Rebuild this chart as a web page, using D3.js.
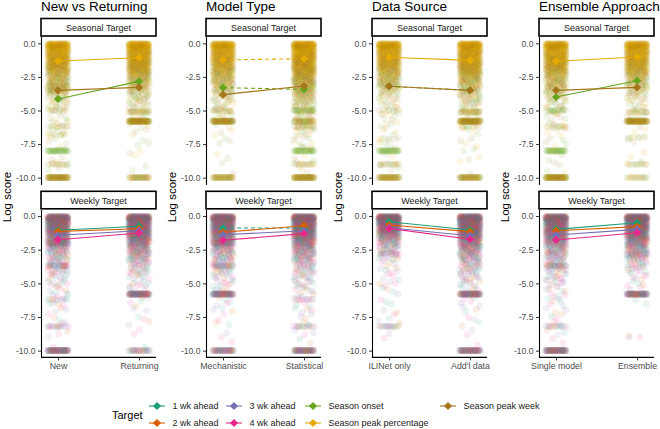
<!DOCTYPE html>
<html>
<head>
<meta charset="utf-8">
<script src="https://cdn.jsdelivr.net/npm/d3@7"></script>
<style>
  html, body { margin: 0; padding: 0; background: #fff; }
  svg { display: block; font-family: "Liberation Sans", Arial, sans-serif; }
</style>
</head>
<body>
<svg id="chart" width="660" height="429"></svg>
<script>
// ---------------- DATA ----------------
const columnTitles = ["New vs Returning", "Model Type", "Data Source", "Ensemble Approach"];
const categories = [["New", "Returning"], ["Mechanistic", "Statistical"], ["ILINet only", "Add'l data"], ["Single model", "Ensemble"]];
const facetLabels = ["Seasonal Target", "Weekly Target"];
const targetNames = ["1 wk ahead", "2 wk ahead", "3 wk ahead", "4 wk ahead", "Season onset", "Season peak percentage", "Season peak week"];
const targetColors = ["#1B9E77", "#D95F02", "#7570B3", "#E7298A", "#66A61E", "#E6AB02", "#A6761D"];
const yTicks = [0, -2.5, -5, -7.5, -10];

// mean log scores [category1, category2] per column
const mean1wk = [[-1.06, -0.76], [-0.89, -0.89], [-0.42, -1.04], [-0.99, -0.50]];
const mean2wk = [[-1.14, -0.94], [-1.21, -0.72], [-0.67, -1.16], [-1.09, -0.79]];
const mean3wk = [[-1.43, -1.09], [-1.39, -1.09], [-0.87, -1.46], [-1.41, -0.99]];
const mean4wk = [[-1.76, -1.26], [-1.80, -1.31], [-0.92, -1.73], [-1.78, -1.24]];
const meanOnset = [[-4.14, -2.83], [-3.30, -3.43], [-3.20, -3.50], [-4.00, -2.78]];
const meanPeakPct = [[-1.32, -1.07], [-1.24, -1.14], [-1.04, -1.27], [-1.34, -1.02]];
const meanPeakWeek = [[-3.50, -3.28], [-3.82, -3.18], [-3.20, -3.50], [-3.50, -3.28]];
// non-significant differences (dashed)
const dashed1wk = [false, true, false, false];
const dashed2wk = [false, false, false, false];
const dashed3wk = [false, false, false, false];
const dashed4wk = [false, false, false, false];
const dashedOnset = [false, true, true, false];
const dashedPeakPct = [false, true, false, false];
const dashedPeakWeek = [false, false, false, false];

// distribution of individual scores: counts per score level
const scoreLevels = [0, -0.5, -1, -1.5, -2, -2.5, -3, -3.5, -4, -4.5, -5, -5.5, -6, -6.5, -7, -7.5, -8, -8.5, -9, -9.5, -10];
const peakPctShare = [0.85, 0.8, 0.72, 0.62, 0.52, 0.42, 0.34, 0.3, 0.3, 0.3, 0.3, 0.3, 0.3, 0.3, 0.3, 0.3, 0.3, 0.3, 0.3, 0.3, 0.3];
const weeklyShare = [0.25, 0.2, 0.3, 0.25]; // 1..4 wk ahead share of weekly scores

const seasNew       = [100, 95, 90, 80, 62, 42, 36, 28, 15, 10, 7, 5, 4, 4, 3, 3, 2, 2, 2, 2, 0];
const seasReturning = [105, 100, 95, 85, 72, 46, 36, 26, 18, 12, 9, 5, 3, 3, 2, 2, 2, 1, 1, 1, 0];
const seasMech      = [90, 88, 80, 68, 56, 42, 35, 25, 15, 10, 8, 5, 3, 2, 2, 2, 1, 1, 1, 1, 0];
const seasStat      = [115, 112, 105, 95, 82, 62, 50, 40, 30, 20, 15, 12, 10, 8, 6, 5, 4, 3, 3, 2, 0];
const seasILI       = [100, 95, 85, 72, 56, 40, 35, 20, 12, 8, 6, 5, 4, 3, 3, 3, 2, 2, 2, 1, 0];
const seasAddl      = [105, 100, 95, 85, 72, 48, 38, 28, 20, 14, 10, 6, 4, 3, 3, 2, 2, 2, 1, 1, 0];
const seasSingle    = [100, 95, 90, 80, 62, 42, 35, 28, 16, 10, 8, 6, 4, 4, 3, 3, 2, 2, 2, 2, 0];
const seasEns       = [95, 90, 85, 72, 60, 40, 30, 20, 12, 8, 6, 4, 2, 2, 2, 1, 1, 1, 1, 0, 0];

const wkNew       = [125, 115, 100, 72, 50, 30, 22, 18, 14, 10, 8, 6, 5, 4, 3, 3, 3, 2, 2, 1, 0];
const wkReturning = [135, 125, 115, 92, 62, 40, 30, 20, 14, 10, 8, 5, 3, 3, 2, 2, 2, 1, 1, 1, 0];
const wkMech      = [125, 115, 100, 72, 50, 32, 24, 18, 14, 10, 8, 6, 4, 3, 3, 2, 2, 1, 1, 1, 0];
const wkStat      = [135, 125, 110, 88, 62, 40, 30, 22, 16, 12, 9, 7, 5, 4, 4, 3, 3, 2, 2, 1, 0];
const wkILI       = [135, 125, 95, 52, 30, 18, 10, 6, 5, 4, 4, 3, 2, 2, 2, 2, 2, 1, 1, 0, 0];
const wkAddl      = [135, 125, 115, 92, 62, 40, 30, 22, 16, 12, 9, 6, 4, 3, 3, 2, 2, 1, 1, 1, 0];
const wkSingle    = [125, 115, 100, 72, 50, 32, 24, 18, 14, 10, 8, 6, 5, 4, 3, 3, 3, 2, 2, 1, 0];
const wkEns       = [135, 125, 110, 82, 55, 35, 25, 15, 10, 6, 4, 2, 1, 1, 0, 0, 0, 0, 1, 0, 0];

// repeated exact scores (horizontal bands): [score, count, target index or -1 for mixed]
const bandsSeasNew       = [[-3.2, 10, -1], [-3.5, 10, -1], [-5, 8, -1], [-6.2, 10, -1], [-6.8, 6, -1], [-8, 30, 4], [-9, 12, -1], [-10, 65, -1]];
const bandsSeasReturning = [[-5.1, 20, -1], [-5.8, 80, -1], [-10, 35, -1]];
const bandsSeasMech      = [[-5, 12, -1], [-5.8, 70, -1], [-10, 42, -1]];
const bandsSeasStat      = [[-5, 22, 4], [-5.8, 30, -1], [-6.2, 12, -1], [-8, 30, 4], [-9, 14, -1], [-10, 65, -1]];
const bandsSeasILI       = [[-5, 6, -1], [-7.1, 5, -1], [-8, 30, 4], [-9, 14, -1], [-10, 50, -1]];
const bandsSeasAddl      = [[-5.1, 22, -1], [-5.8, 75, -1], [-6.2, 8, -1], [-10, 50, -1]];
const bandsSeasSingle    = [[-5, 14, 4], [-6.2, 10, -1], [-8, 30, 4], [-10, 70, -1]];
const bandsSeasEns       = [[-5.1, 14, -1], [-5.8, 75, -1], [-7, 6, -1], [-9, 12, -1], [-10, 16, -1]];

const bandsWkNew       = [[-2, 20, -1], [-3.7, 15, -1], [-6.2, 8, -1], [-8.2, 12, -1], [-10, 70, -1]];
const bandsWkReturning = [[-5.8, 70, -1], [-10, 25, -1]];
const bandsWkMech      = [[-2, 20, -1], [-3.7, 15, -1], [-5.8, 60, -1], [-10, 45, -1]];
const bandsWkStat      = [[-6.2, 8, -1], [-8.2, 12, -1], [-10, 55, -1]];
const bandsWkILI       = [[-2.8, 10, -1], [-8.2, 14, -1]];
const bandsWkAddl      = [[-5.8, 65, -1], [-10, 60, -1]];
const bandsWkSingle    = [[-3.7, 15, -1], [-8.2, 12, -1], [-10, 70, -1]];
const bandsWkEns       = [[-2.8, 10, -1], [-5.8, 65, -1], [-9, 2, -1]];

// ---------------- ASSEMBLY ----------------
const seasCounts = [[seasNew, seasReturning], [seasMech, seasStat], [seasILI, seasAddl], [seasSingle, seasEns]];
const wkCounts = [[wkNew, wkReturning], [wkMech, wkStat], [wkILI, wkAddl], [wkSingle, wkEns]];
const seasBands = [[bandsSeasNew, bandsSeasReturning], [bandsSeasMech, bandsSeasStat], [bandsSeasILI, bandsSeasAddl], [bandsSeasSingle, bandsSeasEns]];
const wkBands = [[bandsWkNew, bandsWkReturning], [bandsWkMech, bandsWkStat], [bandsWkILI, bandsWkAddl], [bandsWkSingle, bandsWkEns]];
const meansByTarget = [mean1wk, mean2wk, mean3wk, mean4wk, meanOnset, meanPeakPct, meanPeakWeek];
const dashedByTarget = [dashed1wk, dashed2wk, dashed3wk, dashed4wk, dashedOnset, dashedPeakPct, dashedPeakWeek];
const facetTargets = [[4, 5, 6], [0, 1, 2, 3]];
const weeklyCum = d3.cumsum(weeklyShare);
const weeklyPick = h => Math.min(3, weeklyCum.findIndex(v => h < v) === -1 ? 3 : weeklyCum.findIndex(v => h < v));

// ---------------- LAYOUT ----------------
const svg = d3.select("#chart");
const panelLeft = [41, 206, 372, 539];
const panelWidth = 115;
const facetY = [
  { stripTop: 18.5, top: 36.6, bottom: 184.4 },
  { stripTop: 191.3, top: 209.3, bottom: 357.4 }
];
const jitterHalf = 10.5;
const pointR = 3.4;
const pointAlpha = 0.1;
// deterministic low-discrepancy spread for jitter placement (layout only)
function halton(i, b) { let f = 1, r = 0; while (i > 0) { f /= b; r += f * (i % b); i = Math.floor(i / b); } return r; }

columnTitles.forEach((title, c) => {
  const left = panelLeft[c];
  const g = svg.append("g");
  const x = d3.scalePoint().domain(categories[c]).range([left, left + panelWidth]).padding(0.21);

  g.append("text").attr("x", left).attr("y", 11).attr("font-size", 13.5).attr("fill", "#000").text(title);

  facetLabels.forEach((fl, f) => {
    const fy = facetY[f];
    const y = d3.scaleLinear().domain([-10.5, 0.5]).range([fy.bottom, fy.top]);

    // strip
    g.append("rect").attr("x", left).attr("y", fy.stripTop).attr("width", panelWidth).attr("height", 17.5)
      .attr("fill", "#fff").attr("stroke", "#000").attr("stroke-width", 1.6);
    g.append("text").attr("x", left + panelWidth / 2).attr("y", fy.stripTop + 12.3)
      .attr("text-anchor", "middle").attr("font-size", 9).attr("fill", "#1a1a1a").text(fl);

    // individual scores
    const cloud = g.append("g");
    categories[c].forEach((cat, k) => {
      const counts = (f === 0 ? seasCounts : wkCounts)[c][k];
      const bands = (f === 0 ? seasBands : wkBands)[c][k];
      const pts = [];
      let seq = 1 + c * 7 + k * 3;
      scoreLevels.forEach((lv, li) => {
        const n = counts[li];
        for (let i = 0; i < n; i++) {
          seq++;
          const u = halton(seq, 2);
          const w = halton(seq, 3);
          const h = halton(seq, 5);
          const val = lv === 0 ? -w * 0.25 : lv + (w - 0.5) * 0.5;
          let t;
          if (f === 0) {
            const s = peakPctShare[li];
            t = h < s ? 5 : (h < s + (1 - s) / 2 ? 4 : 6);
          } else {
            t = weeklyPick(h);
          }
          pts.push({ x: x(cat) + (u - 0.5) * 2 * jitterHalf, v: val, t });
        }
      });
      bands.forEach(([bv, n, bt]) => {
        for (let i = 0; i < n; i++) {
          seq++;
          const u = halton(seq, 2);
          const w = halton(seq, 3);
          const h = halton(seq, 5);
          let t;
          if (bt >= 0) t = bt;
          else t = f === 0 ? [5, 4, 6][Math.floor(h * 3)] : weeklyPick(h);
          pts.push({ x: x(cat) + (u - 0.5) * 2 * jitterHalf, v: Math.max(-10, bv + (w - 0.5) * 0.1), t });
        }
      });
      // seasonal scores drawn grouped by target; weekly scores interleaved
      if (f === 0) {
        const order = [4, 5, 6];
        pts.sort((a, b) => order.indexOf(a.t) - order.indexOf(b.t));
      }
      cloud.selectAll(null).data(pts).join("circle")
        .attr("cx", d => d.x).attr("cy", d => y(d.v)).attr("r", pointR)
        .attr("fill", d => targetColors[d.t]).attr("fill-opacity", pointAlpha);
    });

    // axes
    const ya = d3.axisLeft(y).tickValues(yTicks).tickFormat(d => d.toFixed(1)).tickSize(3).tickSizeOuter(0).tickPadding(2.5);
    const yg = g.append("g").attr("transform", `translate(${left},0)`).call(ya);
    yg.select(".domain").attr("stroke", "#000").attr("stroke-width", 1.1);
    yg.selectAll(".tick line").attr("stroke", "#333").attr("stroke-width", 1);
    yg.selectAll(".tick text").attr("font-size", 8.6).attr("fill", "#4d4d4d").attr("font-family", "Liberation Sans, Arial, sans-serif");

    if (f === 1) {
      const xa = d3.axisBottom(x).tickSize(3).tickSizeOuter(0).tickPadding(2.5);
      const xg = g.append("g").attr("transform", `translate(0,${fy.bottom})`).call(xa);
      xg.select(".domain").attr("stroke", "#000").attr("stroke-width", 1.1)
        .attr("d", `M${left},0H${left + panelWidth}`);
      xg.selectAll(".tick line").attr("stroke", "#333");
      xg.selectAll(".tick text").attr("font-size", 8.8).attr("fill", "#4d4d4d").attr("font-family", "Liberation Sans, Arial, sans-serif");
    }

    // mean lines and markers
    const tg = facetTargets[f];
    const lg = g.append("g");
    tg.forEach(t => {
      const m = meansByTarget[t][c];
      lg.append("path")
        .attr("d", d3.line()([[x(categories[c][0]), y(m[0])], [x(categories[c][1]), y(m[1])]]))
        .attr("fill", "none").attr("stroke", targetColors[t]).attr("stroke-width", 1.1)
        .attr("stroke-dasharray", dashedByTarget[t][c] ? "4,3" : null);
    });
    const diamond = d3.symbol().type(d3.symbolSquare).size(34);
    tg.forEach(t => {
      const m = meansByTarget[t][c];
      m.forEach((v, k) => {
        lg.append("path").attr("d", diamond())
          .attr("transform", `translate(${x(categories[c][k])},${y(v)}) rotate(45)`)
          .attr("fill", targetColors[t]);
      });
    });
  });

  // y-axis title
  g.append("text").attr("transform", `translate(${left - 30},197) rotate(-90)`)
    .attr("text-anchor", "middle").attr("font-size", 11.5).attr("fill", "#000").text("Log score");
});

// ---------------- LEGEND ----------------
const legend = svg.append("g");
legend.append("text").attr("x", 112).attr("y", 419).attr("font-size", 11).attr("fill", "#000").text("Target");
const legCols = [157, 234, 313, 448];
const legRows = [406, 423];
targetNames.forEach((name, i) => {
  const cx = legCols[Math.floor(i / 2)];
  const cy = legRows[i % 2];
  legend.append("line").attr("x1", cx - 8).attr("x2", cx + 8).attr("y1", cy).attr("y2", cy)
    .attr("stroke", targetColors[i]).attr("stroke-width", 1.1);
  legend.append("path").attr("d", d3.symbol().type(d3.symbolSquare).size(34)())
    .attr("transform", `translate(${cx},${cy}) rotate(45)`).attr("fill", targetColors[i]);
  legend.append("text").attr("x", cx + 15.5).attr("y", cy + 3.2).attr("font-size", 9).attr("fill", "#1a1a1a").text(name);
});
</script>
</body>
</html>
